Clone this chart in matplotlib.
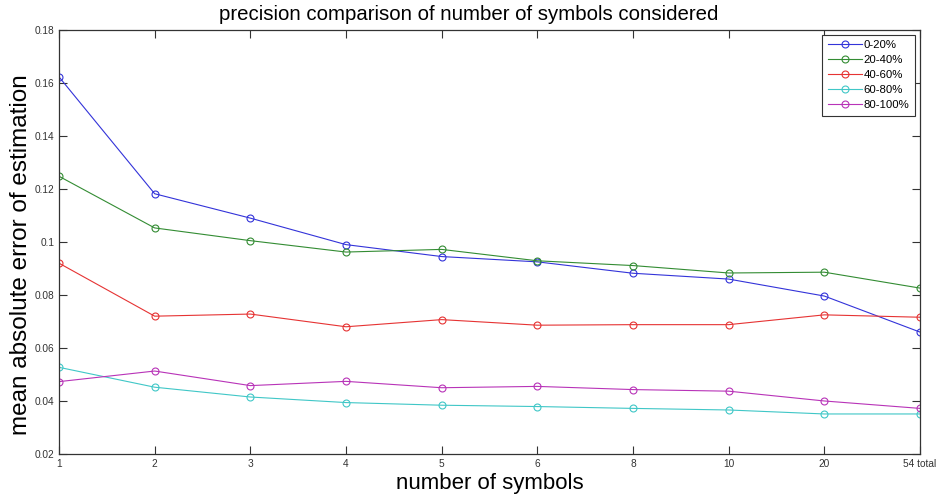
import numpy as np
import matplotlib
matplotlib.use('Agg')
import matplotlib.pyplot as plt

plt.rcParams['font.family'] = ['Liberation Sans', 'DejaVu Sans']

# x categories (equally spaced positions)
x_labels = ['1', '2', '3', '4', '5', '6', '8', '10', '20', '54 total']

# mean absolute error per range of symbols
err_0_20 = [0.1623, 0.1182, 0.1090, 0.0990, 0.0945, 0.0925, 0.0882, 0.0860, 0.0796, 0.0660]
err_20_40 = [0.1248, 0.1053, 0.1005, 0.0962, 0.0972, 0.0929, 0.0911, 0.0883, 0.0886, 0.0826]
err_40_60 = [0.0920, 0.0720, 0.0728, 0.0680, 0.0707, 0.0686, 0.0688, 0.0688, 0.0725, 0.0716]
err_60_80 = [0.0527, 0.0452, 0.0415, 0.0394, 0.0384, 0.0379, 0.0372, 0.0366, 0.0351, 0.0351]
err_80_100 = [0.0473, 0.0513, 0.0458, 0.0474, 0.0450, 0.0455, 0.0443, 0.0437, 0.0400, 0.0372]

series = [
    ('0-20%', err_0_20, (0.2, 0.2, 0.85)),
    ('20-40%', err_20_40, (0.2, 0.55, 0.2)),
    ('40-60%', err_40_60, (0.9, 0.2, 0.2)),
    ('60-80%', err_60_80, (0.25, 0.78, 0.78)),
    ('80-100%', err_80_100, (0.72, 0.2, 0.72)),
]

fig = plt.figure(figsize=(9.38, 4.98), dpi=100)
ax = fig.add_axes([0.0629, 0.0884, 0.9179, 0.8514])

x = np.arange(len(x_labels))
for name, vals, col in series:
    ax.plot(x, vals, color=col, linewidth=0.8, marker='o', markersize=5,
            markerfacecolor='none', markeredgecolor=col, markeredgewidth=0.8,
            label=name)

ax.set_xlim(0, len(x_labels) - 1)
ax.set_ylim(0.02, 0.18)
ax.set_xticks(x)
ax.set_xticklabels(x_labels)
ax.set_yticks(np.arange(0.02, 0.181, 0.02))
ax.set_yticklabels(['0.02', '0.04', '0.06', '0.08', '0.1', '0.12', '0.14', '0.16', '0.18'])

ax.tick_params(direction='in', length=6, width=0.8, labelsize=7.3,
               top=True, right=True, color='#333333', labelcolor='#333333')
for sp in ax.spines.values():
    sp.set_linewidth(0.9)
    sp.set_color('#333333')

ax.set_title('precision comparison of number of symbols considered', fontsize=14.7,
             x=0.476, pad=7)
ax.set_xlabel('number of symbols', fontsize=16, labelpad=3)
ax.set_ylabel('mean absolute error of estimation', fontsize=17.5)
ax.yaxis.set_label_coords(-0.031, 0.469)

leg = ax.legend(loc='upper right', bbox_to_anchor=(0.994, 0.989), fontsize=8.2,
                fancybox=False, framealpha=1, edgecolor='#333333',
                handlelength=3.0, handletextpad=0.15, borderpad=0.5,
                labelspacing=0.44, borderaxespad=0)
leg.get_frame().set_linewidth(0.8)

fig.savefig('out.png', dpi=100)
